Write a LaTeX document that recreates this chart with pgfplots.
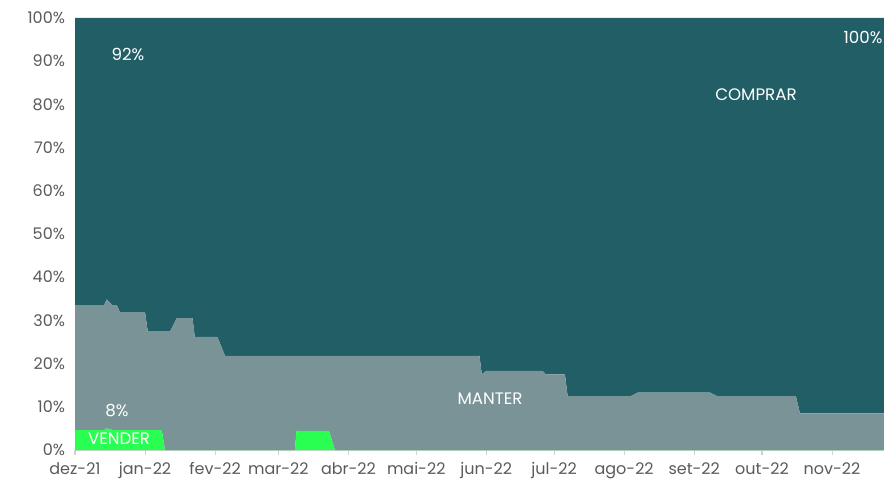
\documentclass[border=0pt]{standalone}
\usepackage{pgfplots}
\usepackage{pgfplotstable}
\pgfplotsset{compat=1.18}
\usepackage{fontspec}
\setmainfont{Poppins}
\definecolor{comprar}{RGB}{33,94,101}
\definecolor{manter}{RGB}{122,147,150}
\definecolor{vender}{RGB}{40,255,80}
\definecolor{ticktxt}{RGB}{90,90,90}

% day (from 1 Dec 2021), VENDER, MANTER, COMPRAR in %
\pgfplotstableread{
day   v    m     c
0     4.6  28.8  66.6
12.8  4.6  28.8  66.6
14    5.0  29.9  65.1
16.8  4.6  28.8  66.6
18.6  4.6  28.8  66.6
19.9  4.6  27.3  68.1
31    4.6  27.3  68.1
32.2  4.6  22.8  72.6
38.4  4.6  22.8  72.6
39.8  0    27.4  72.6
42    0    27.4  72.6
45    0    30.5  69.5
52    0    30.5  69.5
53    0    26.2  73.8
63    0    26.2  73.8
66.4  0    21.8  78.2
97.3  0    21.8  78.2
98    4.4  17.4  78.2
112.4 4.4  17.4  78.2
115   0    21.8  78.2
179   0    21.8  78.2
180   0    17.5  82.5
182   0    18.3  81.7
207   0    18.3  81.7
208.3 0    17.5  82.5
216.8 0    17.5  82.5
218   0    12.5  87.5
246   0    12.5  87.5
249   0    13.3  86.7
281   0    13.3  86.7
284   0    12.5  87.5
319   0    12.5  87.5
320.8 0    8.5   91.5
358   0    8.5   91.5
}\dados

\begin{document}
\begin{tikzpicture}
\begin{axis}[name=ax,
  width=606.75pt, height=324pt, scale only axis,
  xmin=0, xmax=358, ymin=0, ymax=100,
  stack plots=y,
  axis x line*=bottom, axis y line*=left,
  x axis line style={draw=black!18, line width=0.8pt},
  y axis line style={draw=none},
  xtick={0,31,62,90,121,151,182,212,243,274,304,335},
  xticklabels={dez-21,jan-22,fev-22,mar-22,abr-22,mai-22,jun-22,jul-22,ago-22,set-22,out-22,nov-22},
  ytick={0,10,...,100},
  yticklabel={\pgfmathprintnumber{\tick}\%},
  tick label style={font=\fontsize{12}{14}\selectfont, text=ticktxt},
  /pgf/number format/assume math mode=true,
  x tick style={draw=black!18, line width=0.8pt},
  xtick align=outside, major tick length=4pt,
  y tick style={draw=none},
  xticklabel style={yshift=-2pt},
  yticklabel style={xshift=-4pt},
]
\addplot[fill=vender, draw=none] table[x=day, y=v] {\dados} \closedcycle;
\addplot[fill=manter, draw=none] table[x=day, y=m] {\dados} \closedcycle;
\addplot[fill=comprar, draw=none] table[x=day, y=c] {\dados} \closedcycle;
\end{axis}
\begin{scope}[shift={(ax.south west)}, every node/.style={text=white, font=\fontsize{12.5}{15}\selectfont}]
\node at (39.75pt,297pt) {92\%};
\node at (510.75pt,266.25pt) {COMPRAR};
\node at (591pt,309.75pt) {100\%};
\node at (311.25pt,38.25pt) {MANTER};
\node at (31.5pt,29.25pt) {8\%};
\node at (33pt,8.25pt) {VENDER};
\end{scope}
\pgfresetboundingbox
\path ([shift={(-56.25pt,-21.75pt)}]ax.south west) rectangle ([shift={(0pt,13.5pt)}]ax.north east);
\end{tikzpicture}
\end{document}
